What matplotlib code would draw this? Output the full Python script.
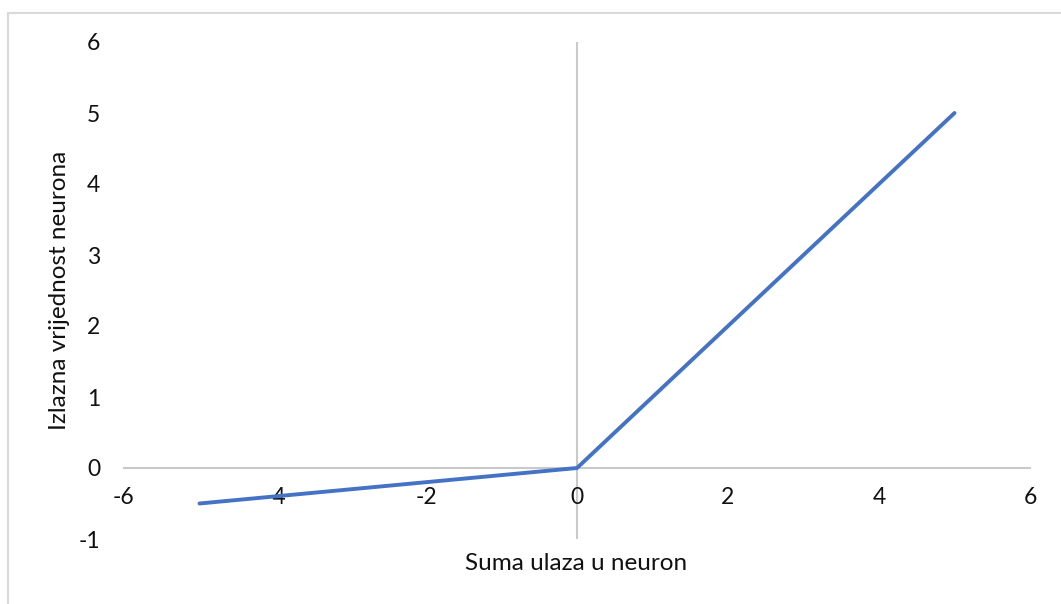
import matplotlib
matplotlib.use("Agg")
import matplotlib.pyplot as plt
from matplotlib.patches import Rectangle

x_vals = [-5, 0, 5]
y_vals = [-0.5, 0, 5]
x_ticks = [-6, -4, -2, 0, 2, 4, 6]
y_ticks = [-1, 0, 1, 2, 3, 4, 5, 6]
x_title = "Suma ulaza u neuron"
y_title = "Izlazna vrijednost neurona"

plt.rcParams['font.family'] = ['Lato', 'DejaVu Sans']

fig = plt.figure(figsize=(10.61, 6.04), dpi=100)
# outer chart frame
fig.patches.append(Rectangle((8/1061, -0.1), 1.2, 1 - 13/604 + 0.1, transform=fig.transFigure,
                             fill=False, edgecolor='#D9D9D9', linewidth=1.5))

ax = fig.add_axes([124/1061, 1 - 539/604, 906/1061, 497/604])
ax.set_xlim(-6, 6)
ax.set_ylim(-1, 6)

for s in ['top', 'right', 'left']:
    ax.spines[s].set_visible(False)
ax.spines['bottom'].set_position(('data', 0))
ax.spines['bottom'].set_color('#C9C9C9')
ax.spines['bottom'].set_linewidth(1.5)
ax.axvline(0, color='#C9C9C9', linewidth=1.5, zorder=1)

ax.set_xticks(x_ticks)
ax.set_yticks(y_ticks)
ax.set_xticklabels([str(t) for t in x_ticks])
ax.set_yticklabels([str(t) for t in y_ticks])
ax.tick_params(axis='x', length=0, pad=14, labelsize=16.5, labelcolor='#111111')
ax.tick_params(axis='y', length=0, pad=17, labelsize=16.5, labelcolor='#111111')

ax.plot(x_vals, y_vals, color='#4472C4', linewidth=2.8, solid_capstyle='round', zorder=3)

fig.text(576/1061, 1 - 563/604, x_title, ha='center', va='center', fontsize=17.5, color='#111111')
fig.text(60/1061, 1 - 290/604, y_title, ha='center', va='center', rotation=90, fontsize=17.5, color='#111111')

fig.savefig("out.png", dpi=100)
